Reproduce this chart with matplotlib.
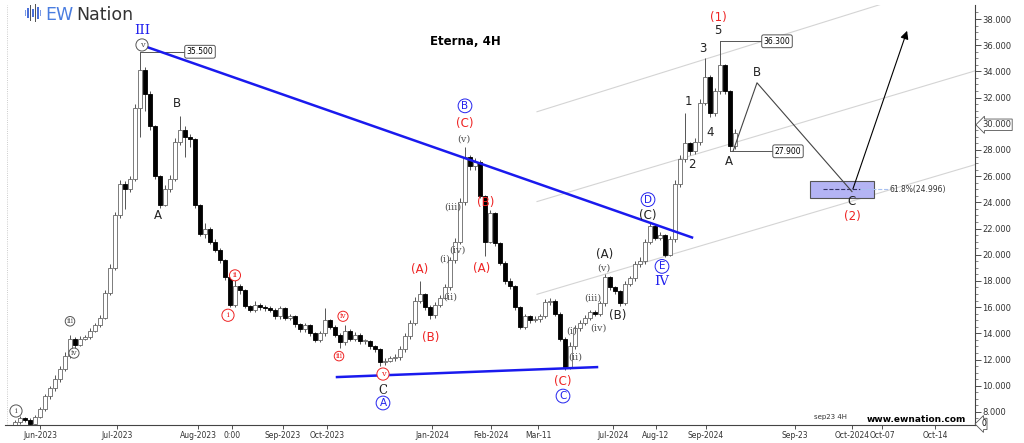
import matplotlib
matplotlib.use('Agg')
import matplotlib.pyplot as plt
from matplotlib.patches import Rectangle

# 4H candles (index = bar number), prices
first_open = 7.0
closes = [7.2, 7.5, 7.4, 7.1, 7.6, 8.2, 9.2, 9.8, 10.5, 11.3,
          12.3, 13.6, 13.1, 13.6, 13.7, 14.2, 14.6, 15.2, 17.1, 19.0,
          23.0, 25.4, 25.0, 25.8, 31.2, 34.1, 32.3, 29.8, 26.0, 23.8,
          25.0, 25.8, 28.6, 29.5, 29.0, 28.8, 23.8, 21.6, 22.0, 21.0,
          20.4, 19.6, 18.3, 16.2, 17.6, 17.3, 16.1, 15.8, 16.2, 16.0,
          15.9, 15.8, 15.3, 15.9, 15.2, 15.3, 14.7, 14.3, 14.6, 14.0,
          13.5, 14.0, 15.0, 14.5, 13.9, 13.3, 14.2, 13.6, 13.9, 13.4,
          13.4, 13.0, 12.8, 11.8, 11.9, 12.1, 12.2, 12.8, 13.8, 14.8,
          16.5, 17.0, 16.0, 15.4, 16.2, 16.7, 17.5, 19.6, 21.0, 24.0,
          27.5, 26.8, 27.1, 24.5, 21.0, 23.2, 20.9, 19.4, 18.0, 17.6,
          16.0, 14.5, 15.3, 15.0, 15.1, 15.3, 16.4, 16.5, 15.5, 13.6,
          11.4, 13.0, 14.4, 14.8, 15.2, 15.6, 15.5, 16.3, 18.3, 17.5,
          17.2, 16.3, 17.8, 18.2, 19.3, 19.5, 21.0, 22.2, 21.3, 21.5,
          20.0, 21.2, 25.4, 27.3, 28.5, 27.9, 28.6, 31.6, 33.6, 30.8,
          32.5, 34.5, 32.5, 28.3, 29.3]
highs = [7.4, 7.7, 7.6, 7.5, 7.8, 8.4, 9.4, 10.0, 10.8, 11.5,
         12.6, 13.9, 13.7, 13.8, 13.9, 14.4, 14.8, 15.4, 17.3, 19.3,
         23.3, 25.7, 25.6, 26.0, 31.5, 35.5, 34.3, 32.5, 29.9, 26.1,
         25.3, 26.1, 28.9, 30.6, 29.8, 29.2, 28.9, 23.9, 22.4, 22.1,
         21.2, 20.5, 19.7, 18.4, 18.1, 17.8, 17.4, 16.2, 16.5, 16.3,
         16.2, 16.1, 15.9, 16.1, 16.0, 15.5, 15.4, 14.8, 14.8, 14.7,
         14.1, 14.2, 15.9, 15.1, 14.6, 14.0, 14.6, 14.3, 14.1, 14.0,
         13.6, 13.5, 13.1, 12.9, 12.1, 12.3, 12.4, 13.0, 14.0, 15.0,
         16.8, 18.0, 17.1, 16.2, 16.4, 16.9, 17.8, 19.8, 21.3, 24.3,
         28.2, 27.6, 27.4, 27.2, 24.6, 23.4, 23.3, 21.0, 19.5, 18.2,
         17.7, 16.1, 15.5, 15.4, 15.3, 15.5, 16.6, 16.7, 16.6, 15.6,
         13.7, 13.3, 14.6, 15.0, 15.4, 15.8, 15.8, 16.5, 18.5, 18.4,
         17.6, 17.3, 18.0, 18.4, 19.5, 19.8, 21.2, 22.4, 22.3, 21.7,
         21.6, 21.4, 25.7, 27.6, 30.8, 28.6, 28.9, 31.9, 35.0, 33.7,
         32.7, 36.3, 34.6, 32.6, 29.6]
lows = [6.9, 7.1, 7.2, 6.9, 7.0, 7.5, 8.1, 9.0, 9.6, 10.3,
        11.1, 12.1, 12.9, 13.0, 13.5, 13.6, 14.1, 14.5, 15.1, 16.9,
        18.8, 22.8, 23.5, 24.8, 25.6, 29.0, 31.0, 29.5, 25.8, 23.6,
        23.7, 24.8, 25.6, 28.4, 27.5, 28.2, 23.6, 21.4, 21.3, 20.8,
        20.2, 19.4, 18.1, 16.0, 16.0, 17.0, 15.9, 15.6, 15.6, 15.8,
        15.7, 15.6, 15.1, 15.1, 15.0, 15.0, 14.5, 14.1, 14.1, 13.8,
        13.3, 13.3, 13.8, 14.3, 13.7, 12.9, 13.1, 13.4, 13.4, 13.2,
        13.2, 12.8, 12.6, 11.5, 11.6, 11.8, 11.9, 12.0, 12.6, 13.6,
        14.6, 16.3, 15.8, 15.1, 15.2, 16.0, 16.6, 17.3, 19.4, 20.8,
        23.8, 26.5, 26.5, 24.3, 19.9, 20.9, 20.7, 19.2, 17.8, 17.4,
        15.8, 14.3, 14.3, 14.8, 14.9, 14.9, 15.2, 16.2, 15.3, 13.4,
        11.2, 11.3, 12.8, 14.2, 14.6, 15.0, 15.3, 15.3, 16.1, 17.3,
        17.0, 16.1, 16.2, 17.6, 18.0, 19.1, 19.3, 20.8, 21.1, 21.1,
        19.8, 19.9, 21.0, 25.2, 27.1, 27.6, 27.7, 28.4, 31.4, 30.5,
        30.6, 32.3, 32.3, 27.9, 28.1]

# x axis labels (bar positions) and price axis
xtick_pos = [5, 20.4, 36.6, 43.4, 53.6, 62.4, 83.4, 95.2, 104.6, 119.6,
             128.2, 138.2, 156, 167.4, 173.4, 184]
xtick_labels = ['Jun-2023', 'Jul-2023', 'Aug-2023', '0:00', 'Sep-2023', 'Oct-2023',
                'Jan-2024', 'Feb-2024', 'Mar-11', 'Jul-2024', 'Aug-12', 'Sep-2024',
                'Sep-23', 'Oct-2024', 'Oct-07', 'Oct-14']
yticks = [8, 10, 12, 14, 16, 18, 20, 22, 24, 26, 28, 30, 32, 34, 36, 38]

# projected path A-B-C and target
path_x = [143.6, 148.4, 167.4]
path_y = [27.9, 33.13, 24.82]
target = (178.6, 37.3)
fib_low, fib_high, fib_618 = 24.37, 25.66, 24.996

# trendlines / channel (bar, price)
upper_tl = ([25.2, 135.4], [36.02, 21.32])
lower_tl = ([64.4, 116.4], [10.66, 11.42])
channels = [([104.4, 174.0], [30.92, 39.22]),
            ([104.4, 192.0], [24.06, 34.04]),
            ([104.4, 192.0], [16.98, 26.88])]

fig = plt.figure(figsize=(10.24, 4.43), dpi=100)
ax = fig.add_axes([5 / 1024, 18 / 443, 970 / 1024, 420 / 443])
ax.set_xlim(-2, 192)
ax.set_ylim(7.08, 39.07)

# channel lines
for cx, cy in channels:
    ax.plot(cx, cy, color='#d4d4d4', lw=0.8, zorder=1)

# candles
opens = [first_open] + closes[:-1]
for i in range(len(closes)):
    o, c, h, l = opens[i], closes[i], highs[i], lows[i]
    up = c >= o
    ax.vlines(i, l, h, color='#555555', lw=0.7, zorder=2)
    body = max(abs(c - o), 0.08)
    ax.add_patch(Rectangle((i - 0.32, min(o, c)), 0.64, body,
                           facecolor='white' if up else 'black',
                           edgecolor='#666666' if up else 'black', lw=0.6, zorder=3))

# blue trendlines
ax.plot(*upper_tl, color='#1a1aee', lw=1.8, zorder=4)
ax.plot(*lower_tl, color='#1a1aee', lw=1.8, zorder=4)

# projection
ax.plot(path_x, path_y, color='#444444', lw=0.8, zorder=4)
ax.annotate('', xy=target, xytext=(path_x[-1], path_y[-1]),
            arrowprops=dict(arrowstyle='-|>', color='black', lw=0.8, mutation_scale=12), zorder=4)
ax.add_patch(Rectangle((159, fib_low), 12.8, fib_high - fib_low, facecolor='#b4b4f4',
                       edgecolor='#555555', lw=0.8, zorder=2))
ax.plot([161.6, 169], [fib_618, fib_618], color='#333366', lw=0.8, ls='--', zorder=3)
ax.plot([169, 174.6], [fib_618, fib_618], color='#a8c0f0', lw=0.8, ls='--', zorder=3)
ax.text(175, fib_618, '61.8%(24.996)', fontsize=5.5, color='#333333', va='center', ha='left')

# price tags
box = dict(boxstyle='round,pad=0.25', fc='white', ec='#555555', lw=0.7)
ax.plot([25, 34], [35.5, 35.5], color='#555555', lw=0.7)
ax.text(37, 35.5, '35.500', fontsize=5.5, ha='center', va='center', bbox=box)
ax.plot([141, 149.6], [36.3, 36.3], color='#555555', lw=0.7)
ax.text(152.4, 36.3, '36.300', fontsize=5.5, ha='center', va='center', bbox=box)
ax.plot([143, 152], [27.9, 27.9], color='#555555', lw=0.7)
ax.text(154.6, 27.9, '27.900', fontsize=5.5, ha='center', va='center', bbox=box)

# wave labels
def plain(x, y, s, color='#222222', size=8.5, family='DejaVu Sans'):
    ax.text(x, y, s, fontsize=size, color=color, ha='center', va='center', family=family, zorder=6)

def circled(x, y, s, color, size=6, family='DejaVu Serif', pad=0.25):
    ax.text(x, y, s, fontsize=size, color=color, ha='center', va='center', family=family, zorder=6,
            bbox=dict(boxstyle='circle,pad=%s' % pad, fc='white', ec=color, lw=0.7))

red = '#ee2222'
blue = '#2222ee'
grey = '#555555'

plain(25.4, 37.09, 'III', blue, 9.5, 'DejaVu Serif')
circled(25.4, 36.02, 'v', grey)
plain(32.4, 31.53, 'B')
plain(28.6, 23.0, 'A')
circled(0.2, 8.07, 'i', grey)
circled(11, 14.92, 'iii', grey, 5.5, pad=0.1)
circled(11.8, 12.49, 'iv', grey, 5.5, pad=0.14)
circled(42.6, 15.38, 'i', red)
circled(44, 18.43, 'ii', red, 5.5, pad=0.2)
circled(64.8, 12.26, 'iii', red, 5.5, pad=0.1)
circled(65.6, 15.30, 'iv', red, 5.5, pad=0.14)
circled(73.6, 10.89, 'v', red)
plain(73.6, 9.67, 'C', '#222222', 8.5, 'DejaVu Serif')
circled(73.6, 8.68, 'A', blue, 7.5, 'DejaVu Sans', 0.18)

plain(81, 18.88, '(A)', red)
plain(83.2, 13.70, '(B)', red)
plain(86, 19.65, '(i)', grey, 7, 'DejaVu Serif')
plain(87, 16.75, '(ii)', grey, 7, 'DejaVu Serif')
plain(87.6, 23.68, '(iii)', grey, 7, 'DejaVu Serif')
plain(88.4, 20.33, '(iv)', grey, 7, 'DejaVu Serif')
plain(89.8, 28.86, '(v)', grey, 7, 'DejaVu Serif')
plain(90, 30.0, '(C)', red)
circled(90, 31.37, 'B', blue, 7.5, 'DejaVu Sans', 0.18)
plain(94.2, 23.99, '(B)', red)
plain(93.4, 18.96, '(A)', red)
plain(109.6, 10.35, '(C)', red)
circled(109.6, 9.21, 'C', blue, 7.5, 'DejaVu Sans', 0.18)
plain(111.4, 14.16, '(i)', grey, 7, 'DejaVu Serif')
plain(112, 12.18, '(ii)', grey, 7, 'DejaVu Serif')
plain(115.6, 16.67, '(iii)', grey, 7, 'DejaVu Serif')
plain(116.6, 14.39, '(iv)', grey, 7, 'DejaVu Serif')
plain(117.8, 18.96, '(v)', grey, 7, 'DejaVu Serif')
plain(118, 20.03, '(A)')
plain(120.6, 15.38, '(B)')
circled(126.6, 24.21, 'D', blue, 7.5, 'DejaVu Sans', 0.18)
plain(126.6, 23.0, '(C)')
circled(129.4, 19.11, 'E', blue, 7.5, 'DejaVu Sans', 0.18)
plain(129.4, 17.97, 'IV', blue, 9.5, 'DejaVu Serif')
plain(134.6, 31.68, '1')
plain(135.4, 26.88, '2')
plain(137.6, 35.72, '3')
plain(139, 29.32, '4')
plain(140.6, 37.09, '5')
plain(140.6, 38.15, '(1)', red)
plain(142.8, 27.11, 'A')
plain(148.4, 33.89, 'B')
plain(167.4, 24.06, 'C')
plain(167.4, 22.92, '(2)', red)

ax.text(90, 36.25, 'Eterna, 4H', fontsize=8.5, fontweight='bold', ha='center', va='center')

# axes styling
for s in ['top', 'left']:
    ax.spines[s].set_visible(False)
ax.spines['right'].set_color('#444444')
ax.spines['bottom'].set_color('#444444')
ax.spines['right'].set_linewidth(0.8)
ax.spines['bottom'].set_linewidth(0.8)
ax.yaxis.tick_right()
ax.set_yticks(yticks)
ax.set_yticklabels(['%.3f' % v for v in yticks], fontsize=6, color='#333333')
ax.set_yticks([v + d for v in range(7, 39) for d in (0.0, 0.5)], minor=True)
ax.tick_params(axis='y', which='major', length=4, width=0.6, pad=1, colors='#333333')
ax.tick_params(axis='y', which='minor', length=2, width=0.5, colors='#555555')
for lab in ax.get_yticklabels():
    if lab.get_text() == '30.000':
        lab.set_bbox(dict(boxstyle='larrow,pad=0.15', fc='white', ec='#555555', lw=0.6))
ax.set_xticks(xtick_pos)
ax.set_xticklabels(xtick_labels, fontsize=5.5, color='#333333')
ax.tick_params(axis='x', length=3, width=0.6, pad=1.5, colors='#333333')

ax.text(190.2, 7.45, 'www.ewnation.com', fontsize=6.5, fontweight='bold', ha='right', va='center')
ax.text(163, 7.6, 'sep23 4H', fontsize=5, ha='center', va='center', color='#333333')
ax.text(193.2, 7.08, '0', fontsize=5.5, ha='left', va='center', clip_on=False,
        bbox=dict(boxstyle='larrow,pad=0.15', fc='white', ec='#555555', lw=0.6))
ax.axvline(-1.7, color='#bbbbbb', lw=0.6, ls=':')

# logo
logo_heights = [0.35, 0.6, 0.9, 0.5, 1.0, 0.7, 0.4]
logo = fig.add_axes([24 / 1024, 421 / 443, 18 / 1024, 18 / 443])
logo.bar(range(len(logo_heights)), logo_heights, bottom=[-h / 2 for h in logo_heights],
         width=0.6, color=['#7a9ae6', '#4a6fd8', '#555555', '#4a6fd8', '#555555', '#4a6fd8', '#7a9ae6'])
logo.set_xlim(-0.6, len(logo_heights) - 0.4)
logo.set_ylim(-0.52, 0.52)
logo.axis('off')
fig.text(45 / 1024, 1 - 15 / 443, 'EW', fontsize=12.5, color='#4a7de0', va='center', ha='left')
fig.text(76 / 1024, 1 - 15 / 443, 'Nation', fontsize=12.5, color='#333333', va='center', ha='left')

fig.savefig('out.png', dpi=100)
